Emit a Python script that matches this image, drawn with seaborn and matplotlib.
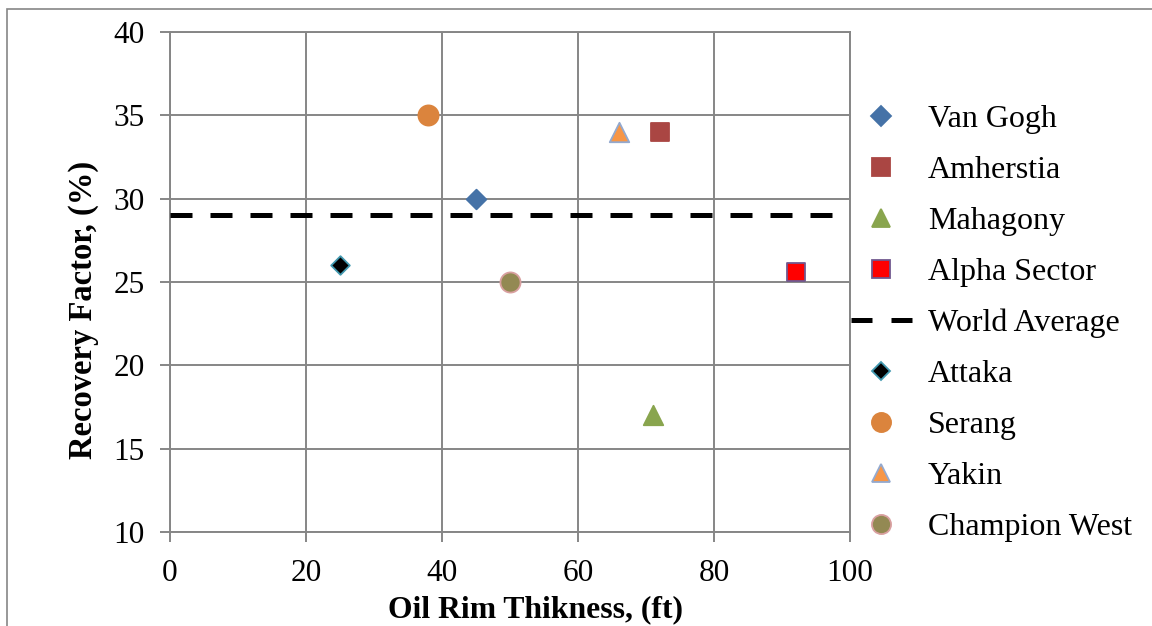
import matplotlib
matplotlib.use("Agg")
import matplotlib.pyplot as plt
from matplotlib.patches import Rectangle
import seaborn as sns
import pandas as pd

# Field data: oil rim thickness (ft) vs. recovery factor (%)
fields = ["Van Gogh", "Amherstia", "Mahagony", "Alpha Sector",
          "Attaka", "Serang", "Yakin", "Champion West"]
thickness_ft = [45, 72, 71, 92, 25, 38, 66, 50]
recovery_pct = [30, 34, 17, 25.6, 26, 35, 34, 25]

world_avg_x = [0, 100]
world_avg_y = [29, 29]

x_ticks = [0, 20, 40, 60, 80, 100]
y_ticks = [10, 15, 20, 25, 30, 35, 40]

# marker style per field: (marker, face, edge, size in pt)
styles = {
    "Van Gogh":      ("D", "#4572A7", "#4572A7", 10.0),
    "Amherstia":     ("s", "#AA4643", "#AA4643", 13.5),
    "Mahagony":      ("^", "#89A54E", "#89A54E", 14.0),
    "Alpha Sector":  ("s", "#FF0000", "#71588F", 13.0),
    "Attaka":        ("D", "#000000", "#4198AF", 9.5),
    "Serang":        ("o", "#DB843D", "#DB843D", 14.5),
    "Yakin":         ("^", "#F79646", "#93A9CF", 14.0),
    "Champion West": ("o", "#938953", "#D9A0A0", 14.5),
}

sns.set_theme(style="white")
plt.rcParams["font.family"] = ["Liberation Serif", "DejaVu Serif"]
plt.rcParams["text.color"] = "black"

fig = plt.figure(figsize=(11.52, 6.26), dpi=100)
ax = fig.add_axes([170 / 1152, 1 - 532 / 626, 680 / 1152, 500 / 626])

df = pd.DataFrame({"field": fields, "x": thickness_ft, "y": recovery_pct})

grid_c = "#868686"
handles = {}
for name in fields:
    m, fc, ec, ms = styles[name]
    sub = df[df["field"] == name]
    sns.scatterplot(data=sub, x="x", y="y", marker=m, s=ms ** 2,
                    color=fc, edgecolor=ec, linewidth=1.3, ax=ax,
                    zorder=4, legend=False)
    handles[name] = plt.Line2D([], [], linestyle="none", marker=m,
                               markersize=ms * 0.95 if m != "D" else ms,
                               markerfacecolor=fc, markeredgecolor=ec,
                               markeredgewidth=1.3)

dash = (0, (4.4, 3.6))
wa = pd.DataFrame({"x": world_avg_x, "y": world_avg_y})
sns.lineplot(data=wa, x="x", y="y", color="black", lw=3.6,
             linestyle=dash, ax=ax, zorder=3)
handles["World Average"] = plt.Line2D([], [], color="black", lw=3.6,
                                      linestyle=(0, (4.2, 3.8)))

ax.set_xlim(0, 100)
ax.set_ylim(10, 40)
ax.set_xticks(x_ticks)
ax.set_yticks(y_ticks)
ax.grid(True, color=grid_c, lw=1.4)
ax.set_axisbelow(True)
for sp in ax.spines.values():
    sp.set_color(grid_c)
    sp.set_linewidth(1.4)
ax.tick_params(axis="both", which="both", direction="out", length=7,
               width=1.4, color=grid_c, labelsize=22.5, labelcolor="black",
               bottom=True, left=True)
ax.tick_params(axis="y", pad=11)
ax.tick_params(axis="x", pad=12.5)

ax.set_xlabel("Oil Rim Thikness, (ft)", fontsize=22.8, fontweight="bold",
              color="black")
ax.set_ylabel("Recovery Factor, (%)", fontsize=23.5, fontweight="bold",
              color="black")
ax.xaxis.set_label_coords(0.537, -0.126)
ax.yaxis.set_label_coords(-0.105, 0.444)

order = ["Van Gogh", "Amherstia", "Mahagony", "Alpha Sector", "World Average",
         "Attaka", "Serang", "Yakin", "Champion West"]
leg = ax.legend([handles[k] for k in order], order, loc="upper left",
                bbox_to_anchor=(1.0015, 0.854), frameon=False, fontsize=23,
                handlelength=1.9, handletextpad=0.5, labelspacing=0.675,
                borderaxespad=0.0, borderpad=0.0)
for t in leg.get_texts():
    t.set_color("black")

# outer chart frame
fig.add_artist(Rectangle((7 / 1152, -0.05), 1.2, 1 - 9 / 626 + 0.05,
                         transform=fig.transFigure, fill=False,
                         edgecolor=grid_c, lw=1.2))

fig.savefig("out.png", dpi=100)
